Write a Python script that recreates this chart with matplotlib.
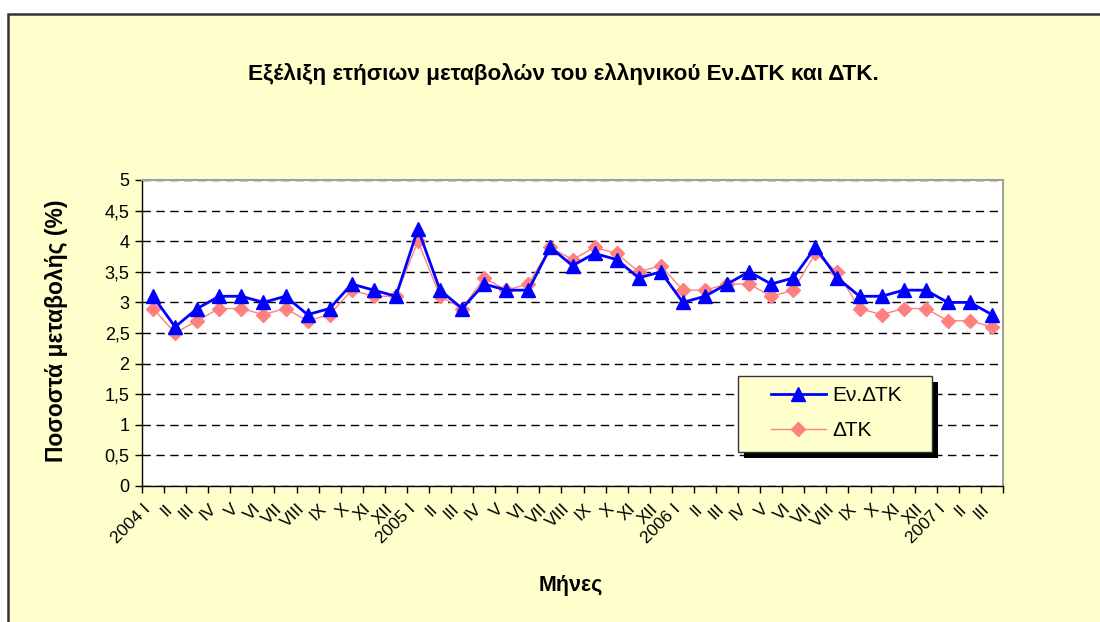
import matplotlib
matplotlib.use("Agg")
import matplotlib.pyplot as plt
from matplotlib.patches import Rectangle
from matplotlib.ticker import FixedLocator, FuncFormatter

plt.rcParams['font.family'] = ['Liberation Sans', 'DejaVu Sans']

# data
years = ['2004', '2005', '2006', '2007']
months = ['I', 'II', 'III', 'IV', 'V', 'VI', 'VII', 'VIII', 'IX', 'X', 'XI', 'XII']
labels = []
for y in years:
    for i, m in enumerate(months):
        if y == '2007' and i > 2:
            break
        labels.append(y + ' ' + m if m == 'I' else m)

ev_dtk = [3.1, 2.6, 2.9, 3.1, 3.1, 3.0, 3.1, 2.8, 2.9, 3.3, 3.2, 3.1,
          4.2, 3.2, 2.9, 3.3, 3.2, 3.2, 3.9, 3.6, 3.8, 3.7, 3.4, 3.5,
          3.0, 3.1, 3.3, 3.5, 3.3, 3.4, 3.9, 3.4, 3.1, 3.1, 3.2, 3.2,
          3.0, 3.0, 2.8]
dtk = [2.9, 2.5, 2.7, 2.9, 2.9, 2.8, 2.9, 2.7, 2.8, 3.2, 3.1, 3.1,
       4.0, 3.1, 2.9, 3.4, 3.2, 3.3, 3.9, 3.7, 3.9, 3.8, 3.5, 3.6,
       3.2, 3.2, 3.3, 3.3, 3.1, 3.2, 3.8, 3.5, 2.9, 2.8, 2.9, 2.9,
       2.7, 2.7, 2.6]

bg = '#FFFFCC'
fig = plt.figure(figsize=(11, 6.22), dpi=100, facecolor='white')
# chart area frame (cut off at right and bottom)
fig.patches.append(Rectangle((8 / 1100, -0.05), 1.1, (622 - 14) / 622 + 0.05,
                             transform=fig.transFigure, facecolor=bg,
                             edgecolor='#333333', linewidth=1.8, zorder=-10))

ax = fig.add_axes([142 / 1100, 1 - 486 / 622, 861 / 1100, 306 / 622])
ax.set_facecolor('white')

x = list(range(len(labels)))
ax.plot(x, ev_dtk, color='#0000FF', lw=2, marker='^', ms=10, label='Εν.ΔΤΚ', zorder=4)
ax.plot(x, dtk, color='#FF8080', lw=1, marker='D', ms=7.5, label='ΔΤΚ', zorder=3)

ax.set_xlim(-0.5, len(labels) - 0.5)
ax.set_ylim(0, 5)
ax.set_yticks([i * 0.5 for i in range(11)])
ax.yaxis.set_major_formatter(FuncFormatter(lambda v, p: ('%g' % v).replace('.', ',')))
ax.grid(axis='y', color='black', linestyle=(0, (6, 4)), linewidth=1)
ax.set_axisbelow(True)

ax.set_xticks(x)
ax.set_xticklabels(labels, rotation=45, ha='right', fontsize=12.5)
ax.xaxis.set_minor_locator(FixedLocator([i - 0.5 for i in range(len(labels) + 1)]))
ax.tick_params(axis='x', which='major', length=0, pad=11)
ax.tick_params(axis='x', which='minor', length=5, width=1, direction='out')
ax.tick_params(axis='y', length=5, width=1, labelsize=13, pad=4)

for s in ['top', 'right']:
    ax.spines[s].set_color('#A0A0A0')
    ax.spines[s].set_linewidth(1.5)
for s in ['left', 'bottom']:
    ax.spines[s].set_color('black')
    ax.spines[s].set_linewidth(1)

fig.text(563 / 1100, 1 - 74 / 622, 'Εξέλιξη ετήσιων μεταβολών του ελληνικού Εν.ΔΤΚ και ΔΤΚ.',
         ha='center', va='center', fontsize=16.2, fontweight='bold')
fig.text(571 / 1100, 1 - 586 / 622, 'Μήνες', ha='center', va='center',
         fontsize=15.5, fontweight='bold')
fig.text(57 / 1100, 1 - 331 / 622, 'Ποσοστά μεταβολής (%)', ha='center', va='center',
         rotation=90, fontsize=16.5, fontweight='bold')

# legend box with hard black shadow, drawn by hand
lx, ly, lw, lh = 0.6922, 0.1111, 0.2253, 0.2484
ax.add_patch(Rectangle((lx + 0.007, ly - 0.0196), lw, lh, transform=ax.transAxes,
                       facecolor='black', edgecolor='none', zorder=5))
ax.add_patch(Rectangle((lx, ly), lw, lh, transform=ax.transAxes,
                       facecolor=bg, edgecolor='#333333', linewidth=1, zorder=5.1))
leg = ax.legend(loc='center left', bbox_to_anchor=(0.7305, 0.2386), borderaxespad=0,
                fontsize=15, frameon=False, handlelength=2.64, handletextpad=0.3,
                borderpad=0, labelspacing=0.75)
leg.set_zorder(6)

fig.savefig('out.png', dpi=100, facecolor=fig.get_facecolor())
